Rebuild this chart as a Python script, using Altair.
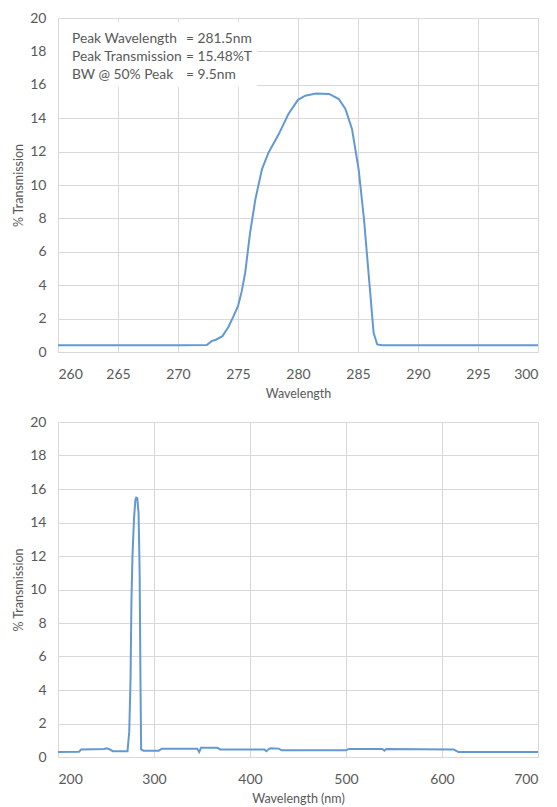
import altair as alt
import pandas as pd

FONT = "Lato"
LINE = "#6399d3"
TXT = "#595959"
GRID = "#d9d9d9"

# Zoomed spectrum (260-300 nm)
top_wl = [260, 265, 270, 272.4, 272.8, 273.2, 273.7, 274.2, 274.6, 275.0, 275.3, 275.6,
          276.0, 276.45, 277.0, 277.55, 278.4, 279.2, 280.0, 280.6, 281.5, 282.6, 283.4,
          283.95, 284.5, 285.05, 285.5, 285.9, 286.3, 286.6, 287.0, 290, 295, 300]
top_t = [0.4, 0.4, 0.4, 0.42, 0.65, 0.75, 0.95, 1.5, 2.1, 2.75, 3.6, 4.75,
         7.1, 9.15, 10.95, 11.95, 13.05, 14.25, 15.1, 15.35, 15.48, 15.45, 15.15,
         14.55, 13.35, 10.95, 7.95, 4.55, 1.15, 0.45, 0.4, 0.4, 0.4, 0.4]

# Full spectrum (200-700 nm)
full_wl = [200, 222, 224, 248, 251, 254, 257, 272.4, 274.2, 275.6, 276.45, 277.55, 279.2,
           280.6, 281.5, 282.6, 283.95, 285.05, 285.9, 286.6, 289, 305, 308, 345, 347, 349,
           366, 369, 415, 417, 419, 421, 430, 433, 500, 503, 538, 540, 542, 612, 617, 700]
full_t = [0.3, 0.32, 0.45, 0.48, 0.52, 0.45, 0.35, 0.35, 1.5, 4.75, 9.15, 11.95, 14.25,
          15.35, 15.48, 15.45, 14.55, 10.95, 4.55, 0.45, 0.38, 0.38, 0.5, 0.5, 0.3, 0.55,
          0.55, 0.45, 0.45, 0.35, 0.45, 0.52, 0.5, 0.4, 0.4, 0.48, 0.48, 0.38, 0.48, 0.45,
          0.3, 0.3]

ann_labels = ["Peak Wavelength", "Peak Transmission", "BW @ 50% Peak"]
ann_values = ["= 281.5nm", "= 15.48%T", "= 9.5nm"]

top_ticks = list(range(260, 301, 5))
full_ticks = list(range(200, 701, 100))
y_ticks = list(range(0, 21, 2))

df_top = pd.DataFrame({"wl": top_wl, "t": top_t})
df_full = pd.DataFrame({"wl": full_wl, "t": full_t})
df_ann = pd.DataFrame({"lab": ["\n".join(ann_labels)], "val": ["\n".join(ann_values)]})

W = 480


def yenc():
    return alt.Y("t:Q", scale=alt.Scale(domain=[0, 20], nice=False),
                 axis=alt.Axis(values=y_ticks, title="% Transmission", domain=False,
                               labelPadding=12, titlePadding=4))


def xaxis(ticks, title):
    return alt.Axis(values=ticks, title=title, labelPadding=15, titlePadding=6)


top_line = alt.Chart(df_top).mark_line(color=LINE, strokeWidth=2).encode(
    x=alt.X("wl:Q", scale=alt.Scale(domain=[260, 300], nice=False),
            axis=xaxis(top_ticks, "Wavelength")),
    y=yenc(),
)

box = alt.Chart(df_ann).mark_rect(color="white").encode(
    x=alt.value(1), x2=alt.value(199), y=alt.value(4), y2=alt.value(69)
)
lab_text = alt.Chart(df_ann).mark_text(
    align="left", baseline="middle", font=FONT, fontSize=13.8, color=TXT,
    lineHeight=18, lineBreak="\n"
).encode(x=alt.value(14), y=alt.value(21), text="lab:N")
val_text = alt.Chart(df_ann).mark_text(
    align="left", baseline="middle", font=FONT, fontSize=13.8, color=TXT,
    lineHeight=18, lineBreak="\n"
).encode(x=alt.value(128), y=alt.value(21), text="val:N")

top = alt.layer(box, top_line, lab_text, val_text).properties(width=W, height=334)

bottom = alt.Chart(df_full).mark_line(color=LINE, strokeWidth=2).encode(
    x=alt.X("wl:Q", scale=alt.Scale(domain=[200, 700], nice=False),
            axis=xaxis(full_ticks, "Wavelength (nm)")),
    y=yenc(),
).properties(width=W, height=335)

chart = alt.vconcat(top, bottom, spacing=15).properties(
    padding={"left": 4, "top": 3, "right": 5, "bottom": 0}
).configure_view(stroke=None).configure_axis(
    labelFont=FONT, labelFontSize=14, labelColor=TXT,
    titleFont=FONT, titleFontSize=12.5, titleColor=TXT, titleFontWeight="normal",
    gridColor=GRID, domainColor=GRID, ticks=False,
)

chart.save("out.html", embed_options={"renderer": "svg", "actions": False})
